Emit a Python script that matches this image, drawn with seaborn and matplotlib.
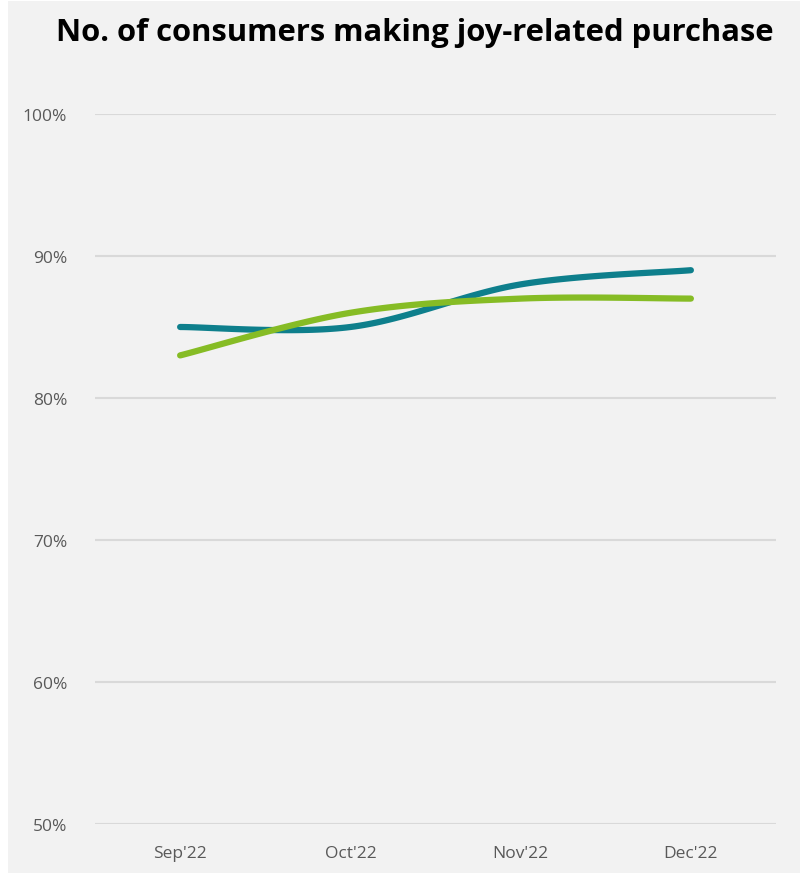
import numpy as np
import pandas as pd
import matplotlib
matplotlib.use("Agg")
import matplotlib.pyplot as plt
import seaborn as sns
from matplotlib.patches import Rectangle

# ---- data ----
months = ["Sep'22", "Oct'22", "Nov'22", "Dec'22"]
series_a = [85, 85, 88, 89]   # teal
series_b = [83, 86, 87, 87]   # green
y_ticks = [50, 60, 70, 80, 90, 100]
title = "No. of consumers making joy-related purchase"

TEAL = "#0E7F8C"
GREEN = "#86BC25"
BG = "#F2F2F2"


def smooth(xs, ys, n=40):
    """Excel-style smoothed line (Catmull-Rom Bezier) through the data points."""
    P = np.column_stack([xs, ys]).astype(float)
    Pe = np.vstack([P[0], P, P[-1]])
    out = []
    t = np.linspace(0, 1, n)[:, None]
    for i in range(1, len(Pe) - 2):
        p0, p3 = Pe[i], Pe[i + 1]
        c1 = p0 + (Pe[i + 1] - Pe[i - 1]) / 6
        c2 = p3 - (Pe[i + 2] - Pe[i]) / 6
        seg = ((1 - t) ** 3) * p0 + 3 * ((1 - t) ** 2) * t * c1 + 3 * (1 - t) * t ** 2 * c2 + t ** 3 * p3
        out.append(seg if i == 1 else seg[1:])
    arr = np.vstack(out)
    return arr[:, 0], arr[:, 1]


sns.set_theme(style="white")
plt.rcParams["font.family"] = ["Open Sans", "DejaVu Sans"]

fig = plt.figure(figsize=(8.0, 8.79), dpi=100)
fig.patch.set_facecolor("white")
fig.patches.append(Rectangle((8 / 800, 5 / 879), 1 - 8 / 800, 1 - 7 / 879,
                             transform=fig.transFigure, facecolor=BG,
                             edgecolor="none", zorder=-10))

ax = fig.add_axes([95 / 800, 1 - 825 / 879, (776 - 95) / 800, (825 - 115) / 879])
ax.set_facecolor(BG)

xpos = np.arange(len(months)) + 0.5
frames = []
for name, vals in [("A", series_a), ("B", series_b)]:
    sx, sy = smooth(xpos, vals)
    frames.append(pd.DataFrame({"x": sx, "y": sy, "series": name}))
df = pd.concat(frames, ignore_index=True)

sns.lineplot(data=df, x="x", y="y", hue="series", palette={"A": TEAL, "B": GREEN},
             sort=False, estimator=None, linewidth=4.5, legend=False, ax=ax)
for line in ax.lines:
    line.set_solid_capstyle("round")

ax.set_xlim(0, len(months))
ax.set_ylim(50, 100)
ax.set_yticks(y_ticks)
ax.set_yticklabels([f"{v}%" for v in y_ticks])
ax.set_xticks(xpos)
ax.set_xticklabels(months)
ax.grid(axis="y", color="#D9D9D9", linewidth=1.5)
ax.set_axisbelow(True)
for s in ax.spines.values():
    s.set_visible(False)
ax.tick_params(axis="both", length=0, labelsize=12.5, labelcolor="#595959")
ax.tick_params(axis="y", pad=20)
ax.tick_params(axis="x", pad=15)
ax.set_xlabel("")
ax.set_ylabel("")

fig.text(415 / 800, 1 - 33 / 879, title, ha="center", va="center",
         fontsize=22.3, fontweight="bold", color="black")

fig.savefig("out.png", dpi=100, facecolor=fig.get_facecolor())
